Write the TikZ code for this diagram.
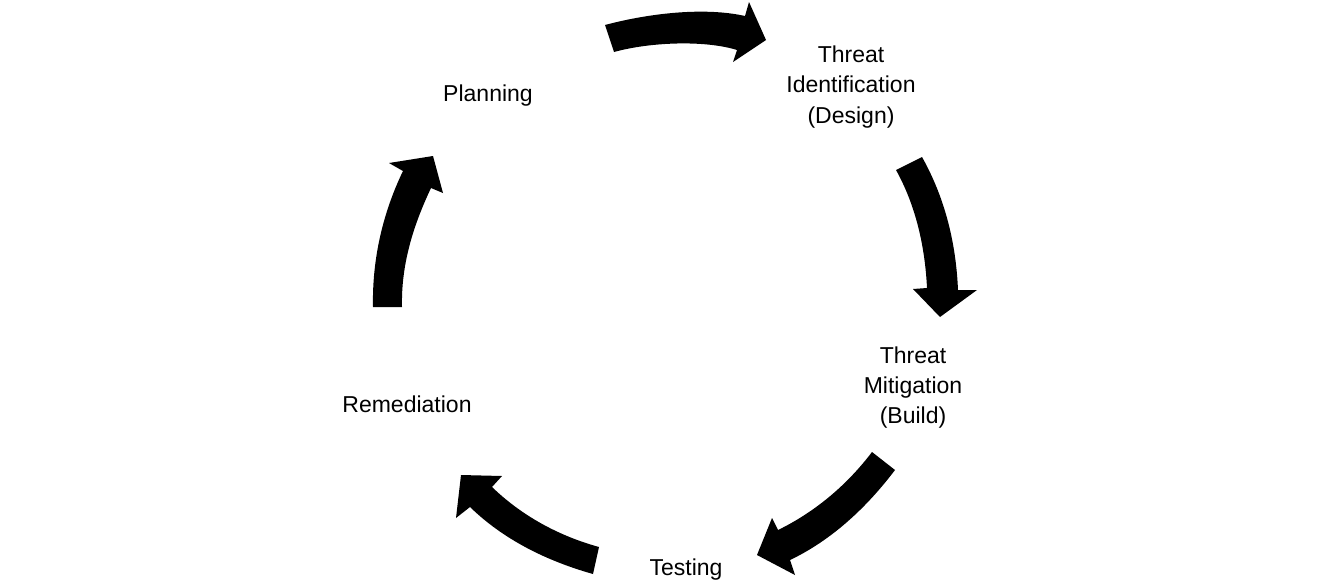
\documentclass[tikz,border=0pt]{standalone}
\usepackage{fontspec}
\setmainfont{Liberation Sans}
\begin{document}
\begin{tikzpicture}[x=1pt,y=-1pt,
  lbl/.style={inner sep=0pt,anchor=base,font=\fontsize{23}{27}\selectfont},
  blockarrow/.style={fill=black,draw=none}]
\useasboundingbox (0,0) rectangle (1320,581);
\fill[white] (0,0) rectangle (1320,581);

% labels
\node[lbl] (plan) at (488,101) {Planning};
\node[lbl] (tid1) at (851,62) {Threat};
\node[lbl] (tid2) at (851,92) {Identification};
\node[lbl] (tid3) at (851,123) {(Design)};
\node[lbl] (tmi1) at (913,363) {Threat};
\node[lbl] (tmi2) at (913,393) {Mitigation};
\node[lbl] (tmi3) at (913,423) {(Build)};
\node[lbl] (test) at (686,575) {Testing};
\node[lbl] (reme) at (407,412) {Remediation};

% arrow 1: Planning -> Threat Identification
\fill[blockarrow] (605,25) .. controls (650,13) and (705,7) .. (745,16)
  -- (749,2) -- (766,40) -- (733,62) -- (737,50)
  .. controls (705,40) and (650,42) .. (614,52) -- cycle;

% arrow 2: Threat Identification -> Threat Mitigation
\fill[blockarrow] (922,157) .. controls (945,198) and (956,243) .. (958,290)
  -- (977,290) -- (940,317) -- (913,289) -- (927,288)
  .. controls (925,247) and (916,206) .. (896,170) -- cycle;

% arrow 3: Threat Mitigation -> Testing
\fill[blockarrow] (895,470) .. controls (867,507) and (832,540) .. (790,560)
  -- (795,575) -- (757,555) -- (772,518) -- (778,530)
  .. controls (815,512) and (847,485) .. (872,452) -- cycle;

% arrow 4: Testing -> Remediation
\fill[blockarrow] (593,574) .. controls (547,561) and (504,540) .. (470,507)
  -- (456,518) -- (461,475) -- (502,476) -- (492,487)
  .. controls (522,516) and (559,536) .. (599,547) -- cycle;

% arrow 5: Remediation -> Planning
\fill[blockarrow] (373,307) .. controls (372,260) and (382.5,213.5) .. (403,171)
  -- (389,163) -- (433,156) -- (443,193) -- (431,188)
  .. controls (413,226) and (401,265) .. (402,307) -- cycle;
\end{tikzpicture}
\end{document}
